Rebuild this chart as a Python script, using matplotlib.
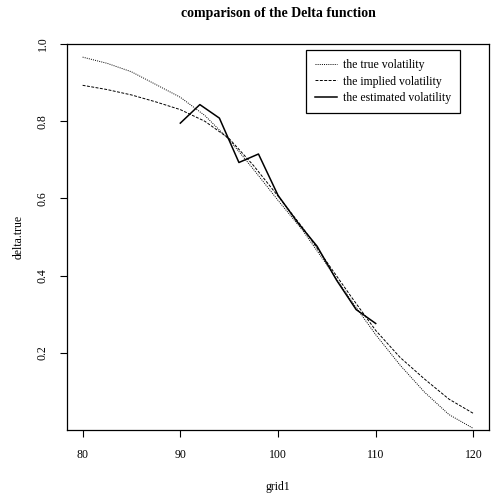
import matplotlib
matplotlib.use('Agg')
import matplotlib.pyplot as plt

# strike grid and the two smooth delta curves
grid1 = [80, 82.5, 85, 87.5, 90, 92.5, 95, 97.5, 100, 102.5, 105, 107.5, 110,
         112.5, 115, 117.5, 120]
delta_true = [0.966, 0.950, 0.928, 0.895, 0.862, 0.815, 0.752, 0.675, 0.595,
              0.518, 0.428, 0.335, 0.247, 0.168, 0.098, 0.040, 0.004]
delta_implied = [0.893, 0.882, 0.868, 0.850, 0.830, 0.800, 0.755, 0.685, 0.606,
                 0.525, 0.435, 0.345, 0.258, 0.188, 0.132, 0.080, 0.043]

# estimated-volatility delta, coarser grid
grid2 = [90, 92, 94, 96, 98, 100, 102, 104, 106, 108, 110]
delta_est = [0.795, 0.843, 0.808, 0.693, 0.715, 0.608, 0.538, 0.476, 0.388,
             0.312, 0.276]

xticks = [80, 90, 100, 110, 120]
yticks = [0.2, 0.4, 0.6, 0.8, 1.0]

plt.rcParams['font.family'] = 'Liberation Serif'

fig = plt.figure(figsize=(4.91, 4.95), dpi=100)
ax = fig.add_axes([67/491, 1 - 430/495, (489 - 67)/491, (430 - 44)/495])

ax.plot(grid1, delta_true, color='black', lw=0.7, ls=(0, (1, 1.2)),
        label='the true volatility')
ax.plot(grid1, delta_implied, color='black', lw=0.7, ls=(0, (3, 1.5)),
        label='the implied volatility')
ax.plot(grid2, delta_est, color='black', lw=1.1, label='the estimated volatility')

ax.set_xlim(78.4, 121.6)
ax.set_ylim(0, 1.0)
ax.set_xticks(xticks)
ax.set_yticks(yticks)
ax.set_yticklabels([f'{v:.1f}' for v in yticks], rotation=90, va='center')
ax.tick_params(direction='out', length=5, width=0.8, labelsize=8.5)
ax.tick_params(axis='x', pad=9)
ax.tick_params(axis='y', pad=8)
for sp in ax.spines.values():
    sp.set_linewidth(0.9)

ax.set_xlabel('grid1', fontsize=8.5, labelpad=14)
ax.set_ylabel('delta.true', fontsize=8.5, labelpad=9)
fig.text(0.5 * (67 + 489) / 491, 1 - 14/495, 'comparison of the Delta function',
         ha='center', va='center', fontsize=10, fontweight='bold')

leg = ax.legend(loc='upper left', bbox_to_anchor=(306/491, 1 - 50/495),
                bbox_transform=fig.transFigure, fontsize=8.5, fancybox=False,
                edgecolor='black', framealpha=1, handlelength=1.9,
                borderpad=0.75, labelspacing=0.4, handletextpad=0.45,
                borderaxespad=0)
leg.get_frame().set_linewidth(0.9)

fig.savefig('out.png', dpi=100)
